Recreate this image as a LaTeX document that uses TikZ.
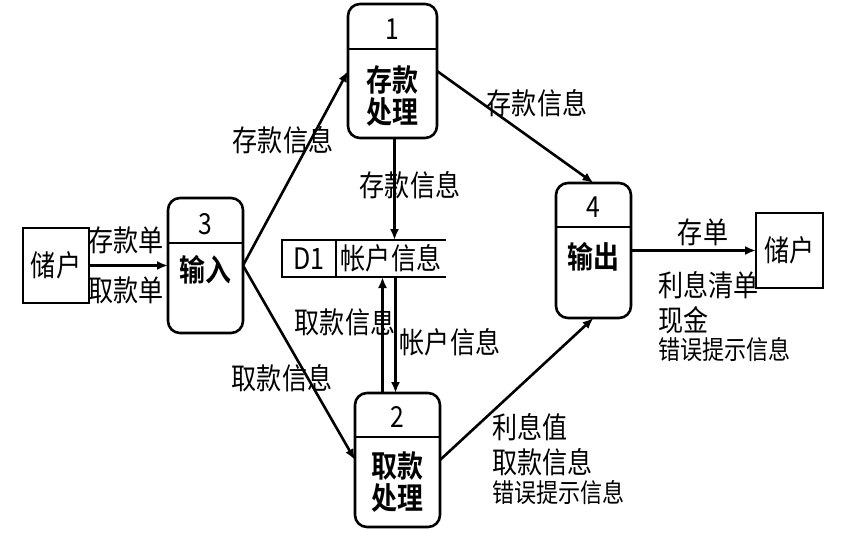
\documentclass[tikz,border=0pt]{standalone}
\usepackage{fontspec}
\setmainfont{Noto Sans CJK SC}[FakeStretch=0.85, BoldFont={Noto Sans CJK SC Bold}, BoldFeatures={FakeStretch=0.85}]
\usetikzlibrary{arrows.meta}

\begin{document}
\begin{tikzpicture}[x=1pt,y=-1pt,
		proc/.style={draw, line width=2.6pt, rounded corners=12pt, inner sep=0pt, outer sep=0pt},
		ent/.style={draw, line width=2.8pt, inner sep=0pt, outer sep=0pt},
		flow/.style={-{Latex[length=11pt,width=9pt]}, line width=2.6pt},
		lbl/.style={font=\fontsize{29.5}{34}\selectfont, inner sep=0pt},
		small/.style={font=\fontsize{26}{30}\selectfont, inner sep=0pt},
		ptxt/.style={font=\fontsize{30.5}{32}\selectfont\bfseries, align=center, inner sep=0pt},
		pnum/.style={font=\fontsize{29}{32}\selectfont, inner sep=0pt}]
	\useasboundingbox (0,0) rectangle (842,532);
	
	% Processes
	\node[proc, minimum width=89pt, minimum height=134pt] (p1) at (392.5,71) {};
	\node[proc, minimum width=85pt, minimum height=134pt] (p2) at (397.5,460) {};
	\node[proc, minimum width=75pt, minimum height=135pt] (p3) at (205.5,265.5) {};
	\node[proc, minimum width=75pt, minimum height=135pt] (p4) at (593.5,250.5) {};
	\draw[line width=1.8pt] ([yshift=-45pt]p1.north west) -- ([yshift=-45pt]p1.north east);
	\draw[line width=1.8pt] ([yshift=-44pt]p2.north west) -- ([yshift=-44pt]p2.north east);
	\draw[line width=1.8pt] ([yshift=-45pt]p3.north west) -- ([yshift=-45pt]p3.north east);
	\draw[line width=1.8pt] ([yshift=-44pt]p4.north west) -- ([yshift=-44pt]p4.north east);
	\node[pnum] (p1num) at ([yshift=-25pt]p1.north) {1};
	\node[pnum] (p2num) at ([yshift=-24pt]p2.north) {2};
	\node[pnum] (p3num) at ([yshift=-26pt]p3.north) {3};
	\node[pnum] (p4num) at ([yshift=-24pt]p4.north) {4};
	\node[ptxt] (p1txt) at ([yshift=-92pt]p1.north) {存款\\处理};
	\node[ptxt] (p2txt) at ([yshift=-89pt]p2.north) {取款\\处理};
	\node[ptxt] (p3txt) at ([yshift=-72pt]p3.north) {输入};
	\node[ptxt] (p4txt) at ([yshift=-74pt]p4.north) {输出};
	
	% Customers
	\node[ent, lbl, minimum width=66pt, minimum height=75pt] (c1) at (56,265.5) {储户};
	\node[ent, lbl, minimum width=67pt, minimum height=75pt] (c2) at (789.5,250.5) {储户};
	
	% Data store D1
	\node[minimum width=164pt, minimum height=37pt, inner sep=0pt, outer sep=0pt] (d1) at (364,258.5) {};
	\draw[line width=2.8pt] (d1.north east) -- (d1.north west) -- (d1.south west) -- (d1.south east);
	\draw[line width=2.2pt] ([xshift=54pt]d1.north west) -- ([xshift=54pt]d1.south west);
	\node[lbl] (d1id) at (309,258.5) {D1};
	\node[lbl] (d1name) at (391,258.5) {帐户信息};
	
	% Flows
	\draw[flow] (c1) -- (p3);
	\draw[flow] (p3.east) -- (p1.west);
	\draw[flow] (p3.east) -- (p2.west);
	\draw[flow] ([xshift=2pt]p1.south) -- ([xshift=2pt]p1.south |- d1.north);
	\draw[flow] ([xshift=-15pt]p2.north) -- ([xshift=-15pt]p2.north |- d1.south);
	\draw[flow] ([xshift=-2pt]p2.north |- d1.south) -- ([xshift=-2pt]p2.north);
	\draw[flow] (p1.east) -- (p4.north);
	\draw[flow] (p2.east) -- (p4.south);
	\draw[flow] (p4) -- (c2);
	
	% Labels
	\node[lbl] (cdan) at (126,240) {存款单};
	\node[lbl] (qdan) at (126,290) {取款单};
	\node[lbl] (cinfo1) at (283,140) {存款信息};
	\node[lbl] (cinfo2) at (410,185) {存款信息};
	\node[lbl] (cinfo3) at (537,103) {存款信息};
	\node[lbl] (qinfo1) at (345,322) {取款信息};
	\node[lbl] (zinfo) at (450,342) {帐户信息};
	\node[lbl] (qinfo2) at (282,378) {取款信息};
	\node[lbl, anchor=west] (lxz) at (492,427) {利息值};
	\node[lbl, anchor=west] (qinfo3) at (492,462) {取款信息};
	\node[small, anchor=west] (err1) at (492,493) {错误提示信息};
	\node[lbl] (cd) at (703,232) {存单};
	\node[lbl, anchor=west] (lxqd) at (658,285) {利息清单};
	\node[lbl, anchor=west] (xj) at (658,320) {现金};
	\node[small, anchor=west] (err2) at (658,350) {错误提示信息};
\end{tikzpicture}
\end{document}
